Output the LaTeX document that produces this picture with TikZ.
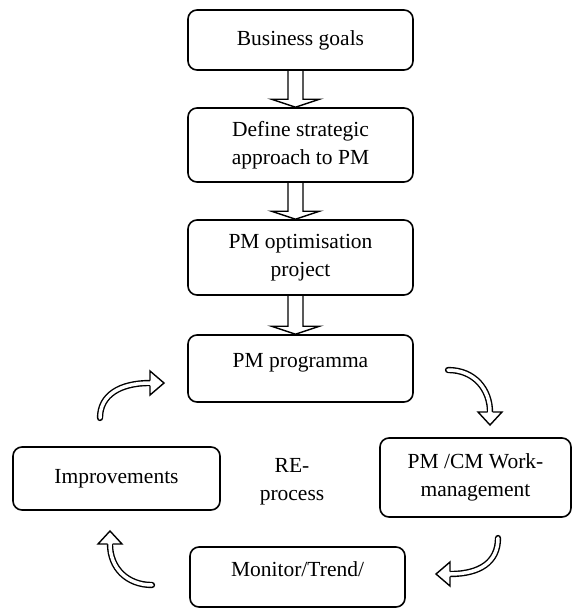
\documentclass[tikz,border=0pt]{standalone}
\usepackage{fontspec}
\setmainfont{Liberation Serif}
\usetikzlibrary{calc}

\tikzset{
  pmbox/.style={draw, line width=1.6pt, rounded corners=9pt, align=center, inner sep=0pt,
    font=\fontsize{21.5}{28}\selectfont},
  uptext/.style={text height=15pt, text depth=17pt},
  hollow/.style={line width=1.4pt, line join=miter},
  bendarrow/.style={double, double distance=3.5pt, line width=1.4pt, line cap=round},
}

\begin{document}
\begin{tikzpicture}[x=1pt,y=-1pt]
		\useasboundingbox (0,0) rectangle (575,610);
		%%  Top column  %%%%%%%%
		\node[pmbox, minimum width=225pt, minimum height=60pt] (goals) at (300.5,40) {Business goals};
		\node[pmbox, minimum width=225pt, minimum height=74pt] (strategy) at (300.5,145) {Define strategic\\approach to PM};
		\node[pmbox, minimum width=225pt, minimum height=75pt] (optim) at (300.5,257.5) {PM optimisation\\project};
		\node[pmbox, uptext, minimum width=225pt, minimum height=67pt] (progr) at (300.5,368.5) {PM programma};
		\foreach \a/\b in {goals/strategy, strategy/optim, optim/progr}
		  \draw[hollow] ($(\a.south)+(-12.5,0)$) -- ($(\b.north)+(-12.5,-8)$) -- ($(\b.north)+(-29,-8)$)
		    -- ($(\b.north)+(-5,0)$) -- ($(\b.north)+(19,-8)$) -- ($(\b.north)+(2.5,-8)$) -- ($(\a.south)+(2.5,0)$);
		%%  RE-process loop  %%%%%%%%
		\node[pmbox, minimum width=191pt, minimum height=79pt] (work) at (475.5,477.5) {PM /CM Work-\\management};
		\node[pmbox, uptext, minimum width=215pt, minimum height=60pt] (monitor) at (297.5,577) {Monitor/Trend/};
		\node[pmbox, minimum width=207pt, minimum height=63pt] (improve) at (116.5,478.5) {Improvements};
		\node[align=center, font=\fontsize{21.5}{28}\selectfont] (re) at (292,482) {RE-\\process};
		% programma -> work
		\coordinate (t1) at (448,370); \coordinate (h1) at (490,412);
		\draw[bendarrow] (t1) .. controls (475,370) and (490,390) .. (h1);
		\fill[white] (478,412) -- (490,425) -- (502,412) -- cycle;
		\draw[hollow] (487.5,412) -- (478,412) -- (490,425) -- (502,412) -- (492.5,412);
		% work -> monitor
		\coordinate (t2) at (498,538); \coordinate (h2) at (450,574);
		\draw[bendarrow] (t2) .. controls (498,562) and (480,574) .. (h2);
		\fill[white] (450,562) -- (436,574) -- (450,586) -- cycle;
		\draw[hollow] (450,571.5) -- (450,562) -- (436,574) -- (450,586) -- (450,576.5);
		% monitor -> improvements
		\coordinate (t3) at (152,585); \coordinate (h3) at (110,544);
		\draw[bendarrow] (t3) .. controls (127,585) and (110,568) .. (h3);
		\fill[white] (98,544) -- (110,531) -- (122,544) -- cycle;
		\draw[hollow] (107.5,544) -- (98,544) -- (110,531) -- (122,544) -- (112.5,544);
		% improvements -> programma
		\coordinate (t4) at (100,418); \coordinate (h4) at (150,383);
		\draw[bendarrow] (t4) .. controls (100,395) and (120,383) .. (h4);
		\fill[white] (150,371) -- (164,383) -- (150,395) -- cycle;
		\draw[hollow] (150,380.5) -- (150,371) -- (164,383) -- (150,395) -- (150,385.5);
		%%%%%%%%%%%%%%%
\end{tikzpicture}
\end{document}
